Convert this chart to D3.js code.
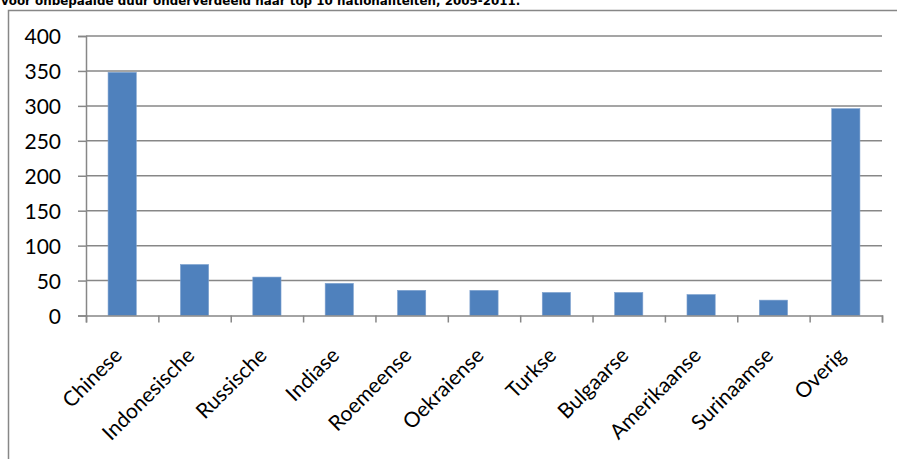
<!DOCTYPE html>
<html>
<head>
<meta charset="utf-8">
<script src="https://cdn.jsdelivr.net/npm/d3@7"></script>
<style>
  body { margin: 0; background: #fff; overflow: hidden; }
  svg { display: block; }
</style>
</head>
<body>
<svg id="chart" width="897" height="459"></svg>
<script>
const categories = ["Chinese", "Indonesische", "Russische", "Indiase", "Roemeense", "Oekraiense",
    "Turkse", "Bulgaarse", "Amerikaanse", "Surinaamse", "Overig"];
const values = [348, 73, 55, 46, 36, 36, 33, 33, 30, 22, 296];
const yTicks = [0, 50, 100, 150, 200, 250, 300, 350, 400];
const titleText = "voor onbepaalde duur onderverdeeld naar top 10 nationaliteiten, 2005-2011.";

const svg = d3.select("#chart");
const plotLeft = 86, plotRight = 882, plotTop = 36, plotBottom = 315.5;
const gridColor = "#878787";

// outer chart frame, partly off the page like the reference
svg.append("rect")
    .attr("x", 8.5).attr("y", 10.5)
    .attr("width", 920).attr("height", 480)
    .attr("fill", "none")
    .attr("stroke", gridColor)
    .attr("stroke-width", 1.5);

// title, its top is cut off in the reference as well
svg.append("text")
    .attr("x", 1).attr("y", 5)
    .attr("font-family", "DejaVu Sans")
    .attr("font-weight", "bold")
    .attr("font-size", 11.9)
    .attr("fill", "#000")
    .text(titleText);

const x = d3.scaleBand().domain(categories).range([plotLeft, plotRight]).paddingInner(0.61).paddingOuter(0.305);
const xTicks = d3.scaleLinear().domain([0, categories.length]).range([plotLeft, plotRight]);
const y = d3.scaleLinear().domain([0, 400]).range([plotBottom, plotTop]);

// grid lines
svg.append("g").selectAll("line").data(yTicks.filter(d => d > 0)).join("line")
    .attr("x1", plotLeft).attr("x2", plotRight)
    .attr("y1", d => y(d)).attr("y2", d => y(d))
    .attr("stroke", gridColor).attr("stroke-width", 1.5);

// bars
svg.append("g").selectAll("rect").data(values).join("rect")
    .attr("x", (d, i) => x(categories[i]))
    .attr("width", x.bandwidth())
    .attr("y", d => y(d))
    .attr("height", d => y(0) - y(d))
    .attr("fill", "#4f81bd")
    .attr("stroke", "#7fa2cf")
    .attr("stroke-width", 0.6);

// y axis
const yAxis = svg.append("g")
    .attr("transform", `translate(${plotLeft},0)`)
    .call(d3.axisLeft(y).tickValues(yTicks).tickSize(8).tickPadding(17));
yAxis.select(".domain").attr("stroke", gridColor).attr("stroke-width", 1.5);
yAxis.selectAll(".tick line").attr("stroke", gridColor).attr("stroke-width", 1.5);
yAxis.selectAll(".tick text")
    .attr("font-family", "Lato").attr("font-size", 21).attr("fill", "#000")
    .attr("dy", "0.36em");

// x axis
const xAxis = svg.append("g")
    .attr("transform", `translate(0,${plotBottom})`)
    .call(d3.axisBottom(xTicks).tickValues(d3.range(categories.length + 1)).tickSize(7).tickFormat(""));
xAxis.select(".domain").attr("stroke", gridColor).attr("stroke-width", 1.5);
xAxis.selectAll(".tick line").attr("stroke", gridColor).attr("stroke-width", 1.5);

// rotated category labels
svg.append("g").selectAll("text").data(categories).join("text")
    .attr("transform", d => `translate(${x(d) + x.bandwidth() / 2 - 4},${plotBottom + 36}) rotate(-45)`)
    .attr("text-anchor", "end")
    .attr("dy", "0.35em")
    .attr("font-family", "Lato").attr("font-size", 21).attr("fill", "#000")
    .text(d => d);
</script>
</body>
</html>
